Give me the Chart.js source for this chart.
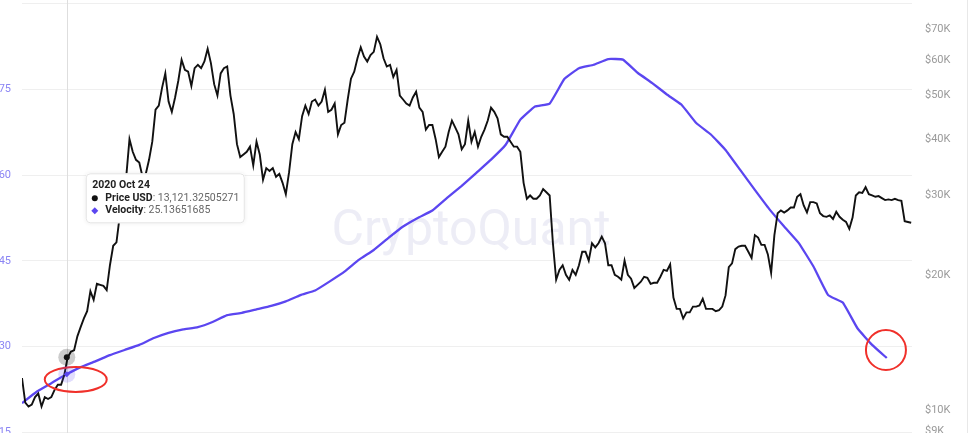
<!DOCTYPE html>
<html>
<head>
<meta charset="utf-8">
<script src="https://cdn.jsdelivr.net/npm/chart.js@4.4.1/dist/chart.umd.min.js"></script>
<style>
  html, body { margin: 0; padding: 0; background: #fff; overflow: hidden; }
  body { width: 972px; height: 433px; position: relative; }
  #wrap { position: absolute; left: 0; top: -20px; width: 972px; height: 480px; }
  #edge { position: absolute; left: 967px; top: 0; width: 1px; height: 433px; background: #e8e8e8; }
</style>
</head>
<body>
<div id="wrap"><canvas id="chart"></canvas></div>
<div id="edge"></div>
<script>
// dates
const START_DATE = '2020-08-30';
const END_DATE = '2023-08-28';

// BTC price in thousand USD, one value every 4 days from START_DATE
const PRICE_STEP_DAYS = 4;
const priceK = [
  11.8, 10.4, 10.2, 10.3, 10.7, 10.9, 10.2, 10.7, 10.6, 10.7,
  11.1, 11.4, 11.4, 12.0, 13.1, 13.5, 13.6, 14.6, 15.3, 16.0,
  16.6, 18.4, 17.6, 19.1, 19.0, 18.9, 18.5, 21.0, 23.2, 23.6,
  27.0, 29.5, 33.0, 40.0, 37.5, 36.0, 35.5, 33.0, 33.5, 36.0,
  39.5, 46.5, 47.5, 52.0, 56.0, 48.5, 46.0, 49.5, 54.0, 60.0,
  57.0, 56.5, 52.5, 57.5, 58.5, 57.5, 59.5, 63.5, 59.0, 53.0,
  50.0, 56.0, 57.5, 58.0, 50.0, 45.5, 39.0, 36.5, 37.0, 37.5,
  38.5, 35.0, 39.5, 37.0, 32.5, 34.5, 34.0, 34.5, 33.0, 33.5,
  32.0, 30.2, 33.8, 39.0, 41.5, 40.0, 45.0, 47.5, 45.5, 48.5,
  49.0, 47.5, 48.5, 51.5, 46.0, 46.5, 48.0, 41.0, 43.0, 43.5,
  49.0, 54.5, 56.5, 60.5, 64.0, 61.0, 59.5, 61.5, 62.5, 67.5,
  65.0, 60.5, 58.0, 58.5, 55.0, 57.0, 50.0, 49.0, 48.0, 47.5,
  49.5, 51.0, 47.0, 46.0, 42.0, 43.0, 43.0, 40.0, 36.5, 37.5,
  38.5, 41.5, 44.0, 42.5, 41.0, 38.0, 39.0, 44.0, 39.5, 41.5,
  38.5, 40.5, 42.0, 44.0, 47.0, 46.0, 44.5, 41.0, 40.5, 40.5,
  39.5, 38.5, 38.5, 37.5, 32.0, 29.5, 30.0, 29.5, 29.5, 30.0,
  31.0, 30.5, 30.0, 23.5, 19.5, 20.5, 21.0, 20.0, 19.5, 20.5,
  20.0, 21.0, 22.5, 22.5, 21.5, 23.5, 23.0, 23.5, 24.3, 23.5,
  21.0, 21.0, 20.0, 19.8, 19.5, 21.5, 20.0, 19.6, 18.7, 19.0,
  19.3, 19.8, 19.7, 19.1, 19.2, 19.2, 19.8, 20.5, 20.4, 21.1,
  17.8, 16.8, 16.8, 16.0, 16.5, 16.5, 17.0, 17.0, 17.1, 17.7,
  16.8, 16.8, 16.8, 16.6, 16.7, 17.0, 18.0, 20.8, 21.2, 22.8,
  23.1, 23.2, 23.2, 22.5, 21.8, 24.5, 24.2, 23.3, 23.3, 22.2,
  20.2, 24.5, 27.4, 27.8, 27.5, 27.8, 28.2, 28.2, 29.8, 30.2,
  28.5, 27.5, 29.0, 29.0, 28.8, 27.4, 27.0, 26.9, 27.1, 26.6,
  27.6, 26.9, 26.5, 26.2, 25.3, 26.8, 30.0, 30.5, 30.4, 31.3,
  30.2, 30.0, 29.8, 29.9, 29.6, 29.3, 29.4, 29.3, 29.5, 29.3,
  29.2, 26.3, 26.2, 26.1
];

// velocity, one value every 18 days from START_DATE
const VELOCITY_STEP_DAYS = 18;
const velocity = [
  20.1, 22.1, 23.6, 25.1, 26.4, 27.4, 28.5, 29.4, 30.3, 31.5,
  32.4, 33.0, 33.4, 34.3, 35.5, 35.9, 36.5, 37.1, 37.9, 39.0,
  39.8, 41.4, 43.1, 45.2, 46.9, 49.0, 51.0, 52.5, 53.8, 56.0,
  58.1, 60.4, 62.7, 65.3, 69.7, 72.0, 72.5, 76.8, 78.7, 79.3,
  80.3, 80.2, 77.9, 76.1, 74.1, 72.3, 69.1, 67.1, 64.4, 60.9,
  57.4, 54.0, 51.0, 48.1, 44.0, 39.0, 37.7, 33.2, 30.3, 28.0
];

// axis ticks
const velocityTicks = [15, 30, 45, 60, 75, 90];
const priceTicks = [9000, 10000, 20000, 30000, 40000, 50000, 60000, 70000];

// hovered point shown in the tooltip
const tooltipDate = '2020-10-24';
const tooltipTitle = '2020 Oct 24';
const tooltipPrice = 13121.32505271;
const tooltipVelocity = 25.13651685;

// red hand-drawn marks (date, velocity)
const redMarks = [
  { date: '2020-11-04', velocity: 24.25, rx: 31, ry: 12.5 },
  { date: '2023-07-27', velocity: 29.4, rx: 20, ry: 20 }
];

const DAY = 86400000;
function dayOf(s) {
  return (Date.parse(s) - Date.parse(START_DATE)) / DAY;
}

const pricePoints = priceK.map((v, i) => ({ x: i * PRICE_STEP_DAYS, y: v * 1000 }));
const velocityPoints = velocity.map((v, i) => ({ x: i * VELOCITY_STEP_DAYS, y: v }));

const PURPLE = '#5b46f0';
const FONT = 'Roboto, "Open Sans", sans-serif';

const overlay = {
  id: 'overlay',
  beforeDatasetsDraw(chart) {
    const { ctx, chartArea: a, scales } = chart;
    ctx.save();
    // watermark
    ctx.font = '400 50px ' + FONT;
    ctx.fillStyle = 'rgba(222,222,238,0.55)';
    ctx.textAlign = 'center';
    ctx.textBaseline = 'alphabetic';
    ctx.fillText('CryptoQuant', (a.left + a.right) / 2 + 4, a.top + 241);
    // crosshair
    const x = Math.round(scales.x.getPixelForValue(dayOf(tooltipDate))) + 0.5;
    ctx.strokeStyle = '#dedede';
    ctx.lineWidth = 1;
    ctx.beginPath();
    ctx.moveTo(x, a.top - 10);
    ctx.lineTo(x, a.bottom + 10);
    ctx.stroke();
    ctx.restore();
  },
  afterDatasetsDraw(chart) {
    const { ctx, chartArea: a, scales } = chart;
    ctx.save();

    // red marks
    ctx.strokeStyle = '#f0302a';
    ctx.lineWidth = 2;
    redMarks.forEach(m => {
      const cx = scales.x.getPixelForValue(dayOf(m.date));
      const cy = scales.yVel.getPixelForValue(m.velocity);
      ctx.beginPath();
      ctx.ellipse(cx, cy, m.rx, m.ry, 0, 0, Math.PI * 2);
      ctx.stroke();
    });

    // hover markers
    const hx = scales.x.getPixelForValue(dayOf(tooltipDate));
    const py = scales.yPrice.getPixelForValue(tooltipPrice);
    const vy = scales.yVel.getPixelForValue(tooltipVelocity);
    ctx.fillStyle = 'rgba(0,0,0,0.2)';
    ctx.beginPath(); ctx.arc(hx, py, 8.5, 0, Math.PI * 2); ctx.fill();
    ctx.fillStyle = '#111';
    ctx.beginPath(); ctx.arc(hx, py, 3, 0, Math.PI * 2); ctx.fill();
    ctx.fillStyle = 'rgba(91,68,242,0.18)';
    ctx.beginPath(); ctx.arc(hx, vy, 8.5, 0, Math.PI * 2); ctx.fill();
    ctx.fillStyle = PURPLE;
    ctx.beginPath();
    ctx.moveTo(hx, vy - 3); ctx.lineTo(hx + 3, vy); ctx.lineTo(hx, vy + 3); ctx.lineTo(hx - 3, vy);
    ctx.closePath(); ctx.fill();

    // tooltip box
    const left = hx + 19, top = a.top + 169.7, w = 159, h = 50;
    ctx.shadowColor = 'rgba(0,0,0,0.08)';
    ctx.shadowBlur = 4;
    ctx.fillStyle = '#fff';
    ctx.beginPath(); ctx.roundRect(left, top, w, h, 4); ctx.fill();
    ctx.shadowColor = 'transparent';
    ctx.strokeStyle = '#e4e4e4';
    ctx.lineWidth = 1;
    ctx.beginPath(); ctx.roundRect(left + 0.5, top + 0.5, w - 1, h - 1, 4); ctx.stroke();

    ctx.textBaseline = 'middle';
    ctx.textAlign = 'left';
    ctx.fillStyle = '#222';
    ctx.font = 'bold 10.5px ' + FONT;
    ctx.fillText(tooltipTitle, left + 6.5, top + 12);

    const rows = [
      { label: 'Price USD', value: tooltipPrice.toLocaleString('en-US', { maximumFractionDigits: 8 }), icon: 'dot', y: top + 25 },
      { label: 'Velocity', value: String(tooltipVelocity), icon: 'diamond', y: top + 37.5 }
    ];
    rows.forEach(r => {
      const ix = left + 9;
      if (r.icon === 'dot') {
        ctx.fillStyle = '#111';
        ctx.beginPath(); ctx.arc(ix, r.y, 3, 0, Math.PI * 2); ctx.fill();
      } else {
        ctx.fillStyle = PURPLE;
        ctx.beginPath();
        ctx.moveTo(ix, r.y - 3.5); ctx.lineTo(ix + 3.5, r.y); ctx.lineTo(ix, r.y + 3.5); ctx.lineTo(ix - 3.5, r.y);
        ctx.closePath(); ctx.fill();
      }
      ctx.fillStyle = '#222';
      ctx.font = 'bold 10.5px ' + FONT;
      const lab = r.label;
      ctx.fillText(lab, left + 19.5, r.y);
      const lw = ctx.measureText(lab).width;
      ctx.fillStyle = '#666';
      ctx.font = '10.5px ' + FONT;
      ctx.fillText(': ' + r.value, left + 19.5 + lw, r.y);
    });

    ctx.restore();
  }
};

const ctx = document.getElementById('chart').getContext('2d');

new Chart(ctx, {
  type: 'line',
  data: {
    datasets: [
      {
        label: 'Price USD',
        data: pricePoints,
        yAxisID: 'yPrice',
        borderColor: '#111',
        borderWidth: 1.9,
        pointRadius: 0,
        tension: 0
      },
      {
        label: 'Velocity',
        data: velocityPoints,
        yAxisID: 'yVel',
        borderColor: PURPLE,
        borderWidth: 2.3,
        pointRadius: 0,
        tension: 0.1
      }
    ]
  },
  options: {
    responsive: true,
    maintainAspectRatio: false,
    animation: false,
    events: [],
    layout: { padding: { top: 23.6, bottom: 27.7, left: 0, right: 0 } },
    plugins: {
      legend: { display: false },
      tooltip: { enabled: false }
    },
    scales: {
      x: {
        type: 'linear',
        min: 0,
        max: dayOf(END_DATE),
        display: false
      },
      yVel: {
        position: 'left',
        min: 15,
        max: 90,
        afterFit(scale) { scale.width = 22; },
        afterBuildTicks(scale) { scale.ticks = velocityTicks.map(v => ({ value: v })); },
        grid: { color: '#efefef', drawTicks: false },
        border: { display: false },
        ticks: {
          autoSkip: false,
          padding: 11,
          color: '#8b85f4',
          font: { family: FONT, size: 11 },
          callback: v => (v === 90 ? '' : v)
        }
      },
      yPrice: {
        type: 'logarithmic',
        position: 'right',
        min: 8940,
        max: 80000,
        afterFit(scale) { scale.width = 60; },
        afterBuildTicks(scale) { scale.ticks = priceTicks.map(v => ({ value: v })); },
        grid: { display: false, drawTicks: false },
        border: { display: false },
        ticks: {
          autoSkip: false,
          padding: 13,
          color: '#9a9a9a',
          font: { family: FONT, size: 11 },
          callback: v => '$' + (v / 1000) + 'K'
        }
      }
    }
  },
  plugins: [overlay]
});
</script>
</body>
</html>
